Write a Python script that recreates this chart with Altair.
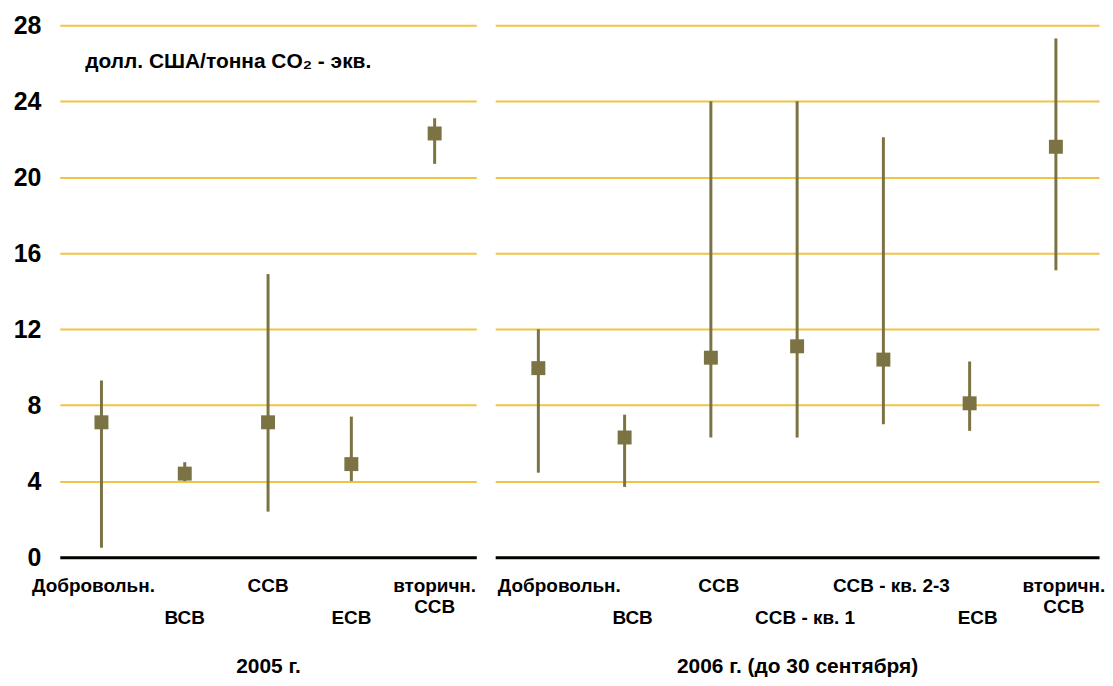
import altair as alt
import pandas as pd

# ---- data ----
cats_2005 = ["Добровольн.", "ВСВ", "ССВ", "ЕСВ", "вторичн. ССВ"]
low_2005 = [0.5, 4.0, 2.4, 4.0, 20.7]
mid_2005 = [7.1, 4.4, 7.1, 4.9, 22.3]
high_2005 = [9.3, 5.0, 14.9, 7.4, 23.1]

cats_2006 = ["Добровольн.", "ВСВ", "ССВ", "ССВ - кв. 1", "ССВ - кв. 2-3", "ЕСВ", "вторичн. ССВ"]
low_2006 = [4.45, 3.7, 6.3, 6.3, 7.0, 6.65, 15.1]
mid_2006 = [9.95, 6.3, 10.5, 11.1, 10.4, 8.1, 21.6]
high_2006 = [12.0, 7.5, 24.0, 24.0, 22.1, 10.3, 27.3]

y_ticks = [0, 4, 8, 12, 16, 20, 24, 28]
unit_label = "долл. США/тонна CO₂ - экв."
title_2005 = "2005 г."
title_2006 = "2006 г. (до 30 сентября)"

OLIVE = "#7B7343"
GRID = "#F2C443"
FONT = "Liberation Sans"

label_expr = "datum.value == 'вторичн. ССВ' ? ['вторичн.', 'ССВ'] : datum.label"
lower_test = "indexof(['ВСВ', 'ЕСВ', 'ССВ - кв. 1'], datum.value) >= 0"
first_test = "datum.value == 'Добровольн.'"


def panel(cats, low, mid, high, title, width, left):
    df = pd.DataFrame({"cat": cats, "low": low, "mid": mid, "high": high})
    if left:
        offset = {"condition": {"test": first_test, "value": -8}, "value": 0}
    else:
        offset = {"condition": {"test": first_test, "value": 21}, "value": 8}
    x_axis = alt.Axis(
        title=title, labelAngle=0, labelFont=FONT, labelFontSize=19,
        labelFontWeight="bold", labelColor="black", labelExpr=label_expr,
        labelLineHeight=22, labelOffset=offset,
        labelPadding={"condition": {"test": lower_test, "value": 52}, "value": 19},
        ticks=False, domainColor="black", domainWidth=3, grid=False,
        titleFont=FONT, titleFontSize=21, titleFontWeight="bold",
        titleColor="black", titlePadding=28,
    )
    y_kwargs = dict(
        values=y_ticks, grid=True, gridColor=GRID, gridWidth=2, domain=False,
        ticks=False, tickSize=0, labels=left, labelFont=FONT, labelFontSize=25,
        labelFontWeight="bold", labelColor="black", labelPadding=19,
    )
    if left:
        y_kwargs.update(
            title=unit_label, titleAngle=0, titleX=25, titleY=36,
            titleAlign="left", titleBaseline="middle", titleFont=FONT,
            titleFontSize=21, titleFontWeight="bold", titleColor="black",
        )
    else:
        y_kwargs.update(title=None)
    y_axis = alt.Axis(**y_kwargs)
    yscale = alt.Scale(domain=[0, 28], nice=False)
    x_enc = alt.X("cat:N", sort=cats, axis=x_axis)
    rule = alt.Chart(df).mark_rule(color=OLIVE, strokeWidth=3).encode(
        x=x_enc, y=alt.Y("low:Q", scale=yscale, axis=y_axis), y2="high:Q"
    )
    pts = alt.Chart(df).mark_square(color=OLIVE, size=196, opacity=1).encode(
        x=x_enc, y=alt.Y("mid:Q", scale=yscale, axis=y_axis)
    )
    return alt.layer(rule, pts).properties(width=width, height=534)


left = panel(cats_2005, low_2005, mid_2005, high_2005, title_2005, 418, True)
right = panel(cats_2006, low_2006, mid_2006, high_2006, title_2006, 606, False)

chart = (
    alt.hconcat(left, right, spacing=19, bounds="flush")
    .properties(padding={"left": 5, "top": 4, "right": 0, "bottom": 0})
    .configure_view(stroke=None)
)

chart.save("out.html", embed_options={"renderer": "svg", "actions": False})
